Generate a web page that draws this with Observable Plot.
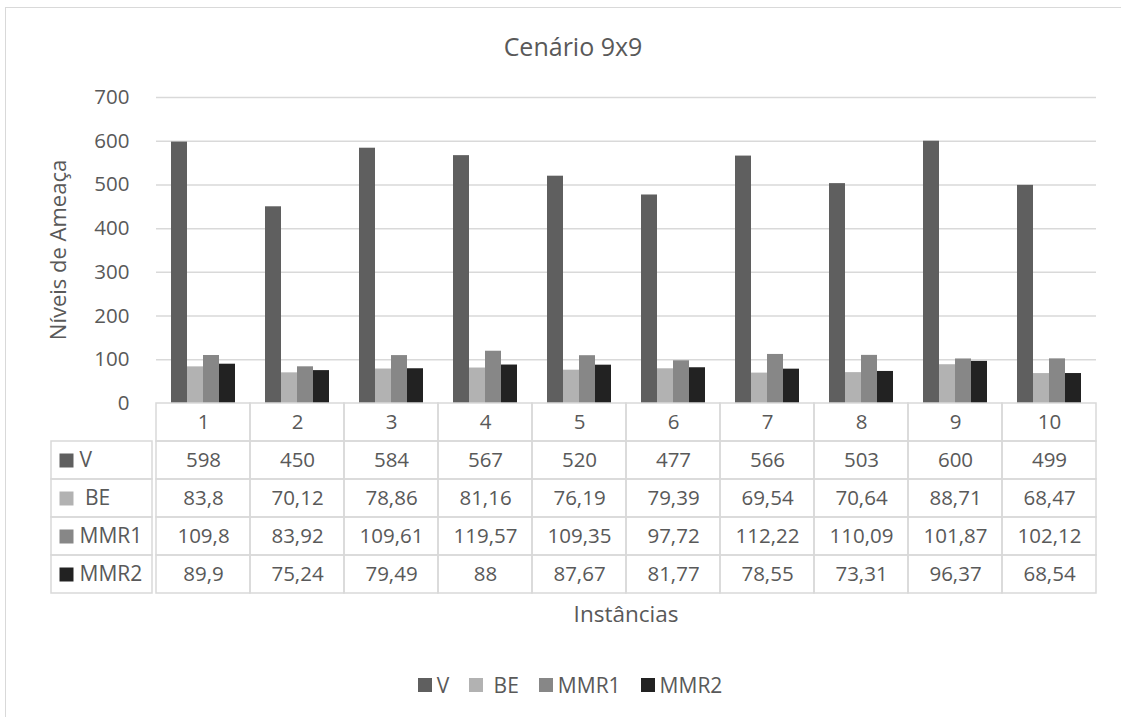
<!DOCTYPE html>
<html>
<head>
<meta charset="utf-8">
<script src="https://cdn.jsdelivr.net/npm/d3@7"></script>
<script src="https://cdn.jsdelivr.net/npm/@observablehq/plot@0.6"></script>
<style>
  html, body { margin: 0; padding: 0; background: #fff; }
  #root { position: relative; width: 1121px; height: 717px; overflow: hidden; background: #fff;
          font-family: "Open Sans", "Noto Sans", sans-serif; color: #595959; }
  #border { position: absolute; left: 5px; top: 7px; width: 1300px; height: 900px; border: 1.5px solid #d9d9d9; box-sizing: border-box; }
  .abs { position: absolute; }
  svg { overflow: visible; }
  svg text { white-space: pre; }
  #title { left: 0; width: 1146px; top: 30px; text-align: center; font-size: 25px; line-height: 32px; }
  #xlabel { left: 152px; width: 948px; top: 599px; text-align: center; font-size: 22.5px; line-height: 30px; }
  #ylabel { left: 57px; top: 250px; font-size: 22px; line-height: 26px; white-space: nowrap;
            transform: translate(-50%, -50%) rotate(-90deg); }
  #legend { left: 0; width: 1160px; top: 671px; display: flex; justify-content: center; }
  .lg-swatches { font-family: "Open Sans", "Noto Sans", sans-serif !important; font-size: 21px !important; color: #595959 !important; margin: 0 !important; min-height: 0 !important; white-space: pre; }
  .lg-swatch { margin-right: 20px !important; }
  .lg-swatch > svg { margin-right: 5px !important; }
</style>
</head>
<body>
<div id="root">
  <div id="border"></div>
  <div id="title" class="abs">Cenário 9x9</div>
  <div id="ylabel" class="abs">Níveis de Ameaça</div>
  <div id="bars" class="abs" style="left:0;top:0"></div>
  <div id="table" class="abs" style="left:0;top:403px"></div>
  <div id="rowlabels" class="abs" style="left:51px;top:441px"></div>
  <div id="xlabel" class="abs">Instâncias</div>
  <div id="legend" class="abs"></div>
</div>
<script>
// ---- data ----
const categories = ["1", "2", "3", "4", "5", "6", "7", "8", "9", "10"];
const seriesNames = ["V", " BE", "MMR1", "MMR2"];
const valuesV    = [598, 450, 584, 567, 520, 477, 566, 503, 600, 499];
const valuesBE   = [83.8, 70.12, 78.86, 81.16, 76.19, 79.39, 69.54, 70.64, 88.71, 68.47];
const valuesMMR1 = [109.8, 83.92, 109.61, 119.57, 109.35, 97.72, 112.22, 110.09, 101.87, 102.12];
const valuesMMR2 = [89.9, 75.24, 79.49, 88, 87.67, 81.77, 78.55, 73.31, 96.37, 68.54];
const yTicks = [0, 100, 200, 300, 400, 500, 600, 700];
const seriesColors = ["#5f5f5f", "#b2b2b2", "#878787", "#222222"];

const seriesValues = [valuesV, valuesBE, valuesMMR1, valuesMMR2];
const rows = [];
seriesNames.forEach((s, si) => categories.forEach((c, ci) => rows.push({series: s, cat: c, value: seriesValues[si][ci]})));
const fmt = v => String(v).replace(".", ",");
const textColor = "#595959";
const gridColor = "#d9d9d9";
const font = "\"Open Sans\", \"Noto Sans\", sans-serif";
const colorScale = {type: "ordinal", domain: seriesNames, range: seriesColors};

// ---- bar chart ----
const bars = Plot.plot({
  width: 1121, height: 404,
  marginTop: 97, marginBottom: 1, marginLeft: 152, marginRight: 21,
  style: {fontFamily: font, color: textColor, background: "transparent"},
  fx: {domain: categories, padding: 0, axis: null},
  x: {domain: seriesNames, paddingInner: 0, paddingOuter: 0.79, axis: null},
  y: {domain: [0, 700]},
  color: colorScale,
  marks: [
    Plot.gridY(yTicks.filter(t => t > 0), {stroke: gridColor, strokeOpacity: 1, strokeWidth: 1.5}),
    Plot.axisY(yTicks, {tickSize: 0, tickPadding: 27, label: null, fontSize: 20.5, fill: textColor}),
    Plot.barY(rows, {fx: "cat", x: "series", y: "value", fill: "series"})
  ]
});
document.getElementById("bars").appendChild(bars);

// ---- data table ----
const headerKey = "#";
const tableRows = [headerKey, ...seriesNames];
const table = Plot.plot({
  width: 1121, height: 190,
  marginTop: 0, marginBottom: 0, marginLeft: 152, marginRight: 21,
  style: {fontFamily: font, color: textColor, background: "transparent"},
  x: {domain: categories, padding: 0, axis: null},
  y: {domain: tableRows, padding: 0, axis: null},
  marks: [
    Plot.cell(rows, {x: "cat", y: "series", fill: "none", stroke: gridColor, strokeWidth: 1.5, inset: 0}),
    Plot.cell(categories, {x: d => d, y: () => headerKey, fill: "none", stroke: gridColor, strokeWidth: 1.5, inset: 0}),
    Plot.text(categories, {x: d => d, y: () => headerKey, text: d => d, fontSize: 20.5, fill: textColor}),
    Plot.text(rows, {x: "cat", y: "series", text: d => fmt(d.value), fontSize: 20.5, fill: textColor})
  ]
});
document.getElementById("table").appendChild(table);

// ---- row labels column ----
const rowLabels = Plot.plot({
  width: 101, height: 152,
  margin: 0,
  style: {fontFamily: font, color: textColor, background: "transparent"},
  y: {domain: seriesNames, padding: 0, axis: null},
  color: colorScale,
  marks: [
    Plot.cell(seriesNames, {y: d => d, fill: "none", stroke: gridColor, strokeWidth: 1.5, inset: 0}),
    Plot.dot(seriesNames, {y: d => d, fill: d => d, symbol: "square", r: 7.9, frameAnchor: "left", dx: 15}),
    Plot.text(seriesNames, {y: d => d, text: d => d, frameAnchor: "left", dx: 28, textAnchor: "start", fontSize: 21, fill: textColor})
  ]
});
document.getElementById("rowlabels").appendChild(rowLabels);

// ---- legend ----
const legend = Plot.legend({color: colorScale, legend: "swatches", swatchSize: 14, className: "lg"});
document.getElementById("legend").appendChild(legend);
</script>
</body>
</html>
